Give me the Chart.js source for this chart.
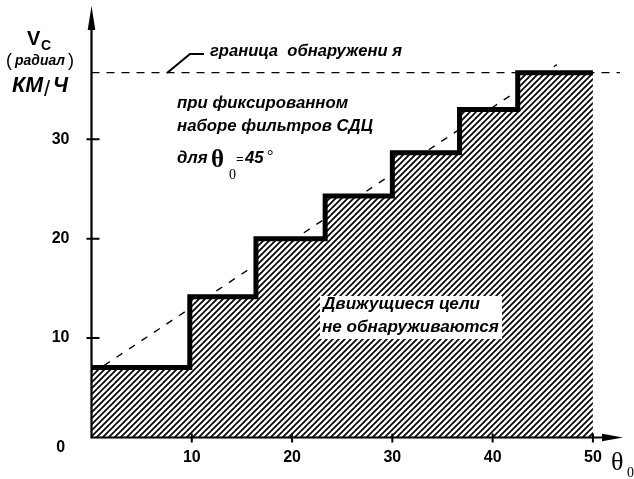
<!DOCTYPE html>
<html><head><meta charset="utf-8">
<script src="https://cdn.jsdelivr.net/npm/chart.js@4"></script>
<style>html,body{margin:0;padding:0;background:#fff;}canvas{display:block}</style>
</head><body>
<canvas id="c" width="634" height="479"></canvas>
<script>
// ---- data ----
const stepAngles = [0, 9.8, 16.4, 23.3, 30, 36.7, 42.5, 50];
const stepSpeeds = [7.05, 14.15, 20.0, 24.3, 28.65, 33.0, 36.7, 36.7];
const trendAngles = [0, 46.4];
const trendSpeeds = [6.4, 37.5];
const boundaryAngles = [0, 52.7];
const boundarySpeeds = [36.7, 36.7];
const xTickValues = [10, 20, 30, 40, 50];
const xTickLabels = ['10', '20', '30', '40', '50'];
const yTickValues = [0, 10, 20, 30];
const yTickLabels = ['0', '10', '20', '30'];

const SANS = '"Liberation Sans", Arial, sans-serif';
const SERIF = '"Liberation Serif", "Times New Roman", serif';

function hatchPattern() {
  const p = document.createElement('canvas');
  p.width = 6; p.height = 6;
  const g = p.getContext('2d');
  g.fillStyle = '#fff'; g.fillRect(0, 0, 6, 6);
  g.strokeStyle = '#000'; g.lineWidth = 1.7;
  g.beginPath();
  g.moveTo(-2, 8); g.lineTo(8, -2);
  g.moveTo(-8, 8); g.lineTo(2, -2);
  g.moveTo(4, 8); g.lineTo(14, -2);
  g.stroke();
  return g.createPattern(p, 'repeat');
}

function pts(xs, ys) { return xs.map((x, i) => ({ x: x, y: ys[i] })); }

function fitFont(ctx, text, target, style, family) {
  ctx.font = style + ' 20px ' + family;
  const w = ctx.measureText(text).width;
  return style + ' ' + (20 * target / w).toFixed(2) + 'px ' + family;
}
function put(ctx, s, x, y, font, align) {
  ctx.font = font; ctx.textAlign = align || 'left'; ctx.textBaseline = 'alphabetic';
  ctx.fillText(s, x, y);
}

const decor = {
  id: 'decor',
  afterDatasetsDraw(chart) {
    const ctx = chart.ctx;
    const xs = chart.scales.x, ys = chart.scales.y;
    const x0 = xs.getPixelForValue(0), y0 = ys.getPixelForValue(0);
    ctx.save();
    ctx.fillStyle = '#000'; ctx.strokeStyle = '#000';

    // white box behind lower caption
    ctx.fillStyle = '#fff';
    ctx.fillRect(320, 296, 182, 43);
    ctx.fillStyle = '#000';

    // axes
    ctx.lineWidth = 2.2;
    ctx.beginPath();
    ctx.moveTo(x0, y0 + 1); ctx.lineTo(x0, 20);
    ctx.moveTo(x0 - 1, y0); ctx.lineTo(612, y0);
    ctx.stroke();
    // arrows
    ctx.beginPath();
    ctx.moveTo(x0, 6); ctx.lineTo(x0 - 3.8, 30); ctx.lineTo(x0 + 3.8, 30); ctx.closePath();
    ctx.fill();
    ctx.beginPath();
    ctx.moveTo(623, y0); ctx.lineTo(602, y0 - 3.8); ctx.lineTo(602, y0 + 3.8); ctx.closePath();
    ctx.fill();

    // tick marks
    ctx.lineWidth = 2;
    ctx.beginPath();
    yTickValues.forEach(v => {
      if (v === 0) return;
      const y = ys.getPixelForValue(v);
      ctx.moveTo(x0 - 5, y); ctx.lineTo(x0 + 8, y);
    });
    xTickValues.forEach(v => {
      const x = xs.getPixelForValue(v);
      ctx.moveTo(x, y0 - 4); ctx.lineTo(x, y0 + 5);
    });
    ctx.stroke();

    // y-axis title
    put(ctx, 'V', 27, 45, 'bold 20px ' + SANS);
    put(ctx, 'C', 41, 50, 'bold 14px ' + SANS);
    put(ctx, '(', 6, 66, 'normal 18px ' + SANS);
    put(ctx, 'радиал', 15, 65, fitFont(ctx, 'радиал', 50, 'bold italic', SANS));
    put(ctx, ')', 68, 66, 'normal 18px ' + SANS);
    put(ctx, 'КМ', 12, 92, fitFont(ctx, 'КМ', 31, 'bold italic', SANS));
    put(ctx, '/', 44, 96, 'normal 22px ' + SANS);
    put(ctx, 'Ч', 53, 92, fitFont(ctx, 'Ч', 15, 'bold italic', SANS));

    // x-axis title
    put(ctx, 'θ', 611, 470, 'normal 26px ' + SERIF);
    put(ctx, '0', 627, 477, 'normal 14px ' + SERIF);

    // boundary label with leader
    ctx.lineWidth = 2;
    ctx.beginPath();
    ctx.moveTo(167, 73); ctx.lineTo(190, 54); ctx.lineTo(204, 54);
    ctx.stroke();
    put(ctx, 'граница  обнаружени я', 210, 56, fitFont(ctx, 'граница  обнаружени я', 192, 'bold italic', SANS));

    // annotation block
    const f2 = fitFont(ctx, 'наборе фильтров СДЦ', 196, 'bold italic', SANS);
    put(ctx, 'при фиксированном', 177, 108, f2);
    put(ctx, 'наборе фильтров СДЦ', 177, 131, f2);
    put(ctx, 'для', 177, 163, f2);
    put(ctx, 'θ', 211, 167, 'bold 25px ' + SERIF);
    put(ctx, '0', 229, 179, 'normal 14px ' + SERIF);
    put(ctx, '=', 236, 163, 'normal 13px ' + SANS);
    put(ctx, '45', 245, 163, f2);
    put(ctx, '°', 267, 161, 'normal 16px ' + SERIF);

    // lower caption
    const f3 = fitFont(ctx, 'не обнаруживаются', 177, 'bold italic', SANS);
    put(ctx, 'Движущиеся цели', 323, 309, f3);
    put(ctx, 'не обнаруживаются', 322, 332, f3);

    ctx.restore();
  }
};

new Chart(document.getElementById('c'), {
  type: 'scatter',
  data: {
    datasets: [
      {
        data: pts(stepAngles, stepSpeeds), showLine: true, stepped: true,
        borderColor: '#000', borderWidth: 5, pointRadius: 0,
        fill: 'origin', backgroundColor: hatchPattern(), order: 0, clip: false
      },
      {
        data: pts(trendAngles, trendSpeeds), showLine: true,
        borderColor: '#000', borderWidth: 1.4, borderDash: [7, 8], pointRadius: 0,
        fill: false, order: 1
      },
      {
        data: pts(boundaryAngles, boundarySpeeds), showLine: true,
        borderColor: '#000', borderWidth: 1.2, borderDash: [8, 7], pointRadius: 0,
        fill: false, order: 2
      }
    ]
  },
  options: {
    responsive: false, animation: false, devicePixelRatio: 1,
    layout: { padding: { top: 10, right: 11, left: 0, bottom: 0 } },
    plugins: { legend: { display: false }, tooltip: { enabled: false } },
    scales: {
      x: {
        type: 'linear', min: 0, max: 53,
        grid: { display: false, drawTicks: false }, border: { display: false },
        afterBuildTicks: s => { s.ticks = xTickValues.map(v => ({ value: v })); },
        afterFit: s => { s.height = 41.5; s.paddingLeft = 0; s.paddingRight = 0; },
        ticks: {
          color: '#000', padding: 10, maxRotation: 0, autoSkip: false,
          font: { family: SANS, weight: 'bold', size: 16, lineHeight: 1.2 },
          callback: (v, i) => xTickLabels[i]
        }
      },
      y: {
        type: 'linear', min: 0, max: 43,
        grid: { display: false, drawTicks: false }, border: { display: false },
        afterBuildTicks: s => { s.ticks = yTickValues.map(v => ({ value: v })); },
        afterFit: s => { s.width = 91.5; s.paddingTop = 0; s.paddingBottom = 0; },
        ticks: {
          color: '#000', padding: 22, crossAlign: 'center', autoSkip: false,
          font: { family: SANS, weight: 'bold', size: 16, lineHeight: 1.25 },
          callback: (v, i) => (yTickValues[i] === 0 ? ['', yTickLabels[i]] : yTickLabels[i])
        }
      }
    }
  },
  plugins: [decor]
});
</script>
</body></html>
